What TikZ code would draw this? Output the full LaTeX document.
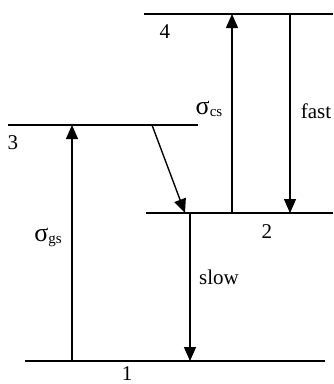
\documentclass[tikz,border=0pt]{standalone}
\usepackage{fontspec}
\setmainfont{Liberation Serif}
\usetikzlibrary{arrows.meta}
\begin{document}
\begin{tikzpicture}[x=1pt,y=-1pt,
  level/.style={line width=1.6pt},
  trans/.style={line width=1.4pt,-{Triangle[length=14pt,width=12pt]}},
  lbl/.style={inner sep=0pt,font=\fontsize{21}{24}\selectfont}]
\useasboundingbox (0,0) rectangle (333,384);
% levels
\coordinate (L4a) at (144,14); \coordinate (L4b) at (333,14);
\coordinate (L3a) at (8,125); \coordinate (L3b) at (198,125);
\coordinate (L2a) at (146,213); \coordinate (L2b) at (333,213);
\coordinate (L1a) at (25,361); \coordinate (L1b) at (325,361);
\draw[level] (L4a) -- (L4b);
\draw[level] (L3a) -- (L3b);
\draw[level] (L2a) -- (L2b);
\draw[level] (L1a) -- (L1b);
% transition endpoints
\coordinate (gs0) at (72,361); \coordinate (gs1) at (72,125);
\coordinate (cs0) at (232,213); \coordinate (cs1) at (232,14);
\coordinate (f0) at (290,14); \coordinate (f1) at (290,213);
\coordinate (s0) at (190,213); \coordinate (s1) at (190,361);
\coordinate (d0) at (152,125); \coordinate (d1) at (185,213);
\draw[trans] (gs0) -- (gs1);
\draw[trans] (cs0) -- (cs1);
\draw[trans] (f0) -- (f1);
\draw[trans] (s0) -- (s1);
\draw[trans] (d0) -- (d1);
% labels
\node[lbl] (n4) at (165,32) {4};
\node[lbl] (n3) at (13,143) {3};
\node[lbl] (n2) at (267,232) {2};
\node[lbl] (n1) at (127,374) {1};
\node[lbl] (fast) at (316,111) {fast};
\node[lbl] (slow) at (219,277) {slow};
\node[lbl] (scs) at (209,109) {{\fontsize{26}{28}\selectfont σ}\raisebox{-0.2ex}{\fontsize{15}{17}\selectfont cs}};
\node[lbl] (sgs) at (48,237) {{\fontsize{26}{28}\selectfont σ}\raisebox{-0.2ex}{\fontsize{15}{17}\selectfont gs}};
\end{tikzpicture}
\end{document}
